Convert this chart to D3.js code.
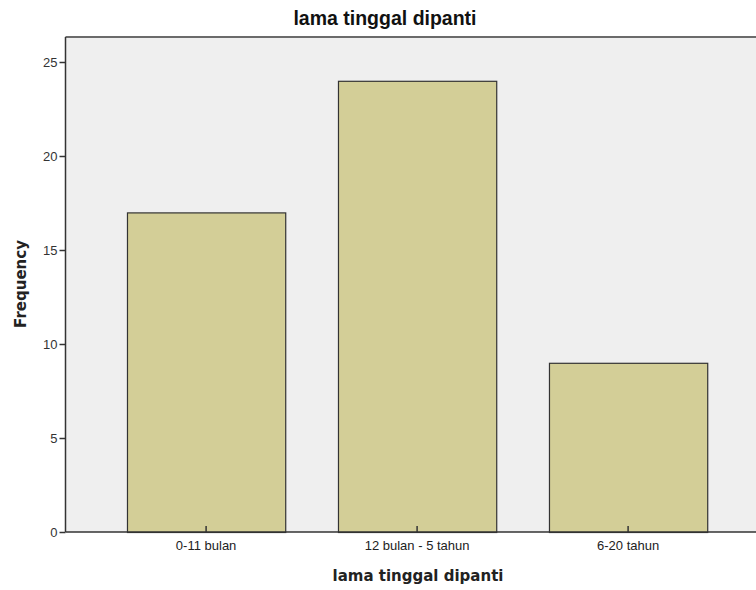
<!DOCTYPE html>
<html lang="id">
<head>
  <meta charset="UTF-8"/>
  <title>lama tinggal dipanti</title>
  <script src="https://d3js.org/d3.v7.min.js"></script>
  <style>
    body { margin: 0; background: #ffffff; }
  </style>
</head>
<body>
<svg id="chart"></svg>
<script>
  // data
  var categories = ["0-11 bulan", "12 bulan - 5 tahun", "6-20 tahun"];
  var frequency = [17, 24, 9];
  var yTicks = [0, 5, 10, 15, 20, 25];

  var width = 756, height = 590;
  var plotLeft = 65.5, plotRight = 757, plotTop = 37, plotBottom = 532;

  var svg = d3.select("#chart")
      .attr("width", width)
      .attr("height", height)
      .style("font-family", "Arial, 'Liberation Sans', sans-serif");

  var x = d3.scaleBand()
      .domain(categories)
      .range([100.6, 733.6])
      .paddingInner(0.25)
      .paddingOuter(0.125);

  var y = d3.scaleLinear()
      .domain([0, 25])
      .range([plotBottom, 62]);

  // plot background
  svg.append("rect")
      .attr("x", plotLeft)
      .attr("y", plotTop)
      .attr("width", plotRight - plotLeft)
      .attr("height", plotBottom - plotTop)
      .attr("fill", "#efefef");

  // top frame line
  svg.append("line")
      .attr("x1", plotLeft).attr("x2", plotRight)
      .attr("y1", plotTop).attr("y2", plotTop)
      .attr("stroke", "#6b6b6b")
      .attr("stroke-width", 2);

  // bars
  svg.selectAll("rect.bar")
      .data(frequency)
      .enter()
      .append("rect")
      .attr("class", "bar")
      .attr("x", function(d, i){ return x(categories[i]) + 0.5; })
      .attr("y", function(d){ return y(d) + 0.5; })
      .attr("width", x.bandwidth())
      .attr("height", function(d){ return plotBottom - y(d); })
      .attr("fill", "#d3ce97")
      .attr("stroke", "#333333")
      .attr("stroke-width", 1.2);

  // y axis
  var yAxis = svg.append("g")
      .attr("transform", "translate(" + plotLeft + ",0)")
      .call(d3.axisLeft(y).tickValues(yTicks).tickSize(6).tickPadding(2));
  yAxis.select(".domain").attr("stroke", "#333333").attr("stroke-width", 1.5)
      .attr("d", "M0," + plotTop + "V" + plotBottom);
  yAxis.selectAll(".tick line").attr("stroke", "#333333").attr("stroke-width", 1.5);
  yAxis.selectAll(".tick text")
      .attr("fill", "#333333")
      .style("font-size", "13px")
      .style("font-family", "Arial, 'Liberation Sans', sans-serif");

  // x axis
  var xAxis = svg.append("g")
      .attr("transform", "translate(0," + plotBottom + ")")
      .call(d3.axisBottom(x).tickSize(6).tickPadding(3));
  xAxis.select(".domain").attr("stroke", "#333333").attr("stroke-width", 1.5)
      .attr("d", "M" + plotLeft + ",0H" + plotRight);
  xAxis.selectAll(".tick line").attr("stroke", "#333333").attr("stroke-width", 1.5)
      .attr("y1", -6).attr("y2", 0);
  xAxis.selectAll(".tick text")
      .attr("fill", "#222222")
      .attr("y", 9)
      .style("font-size", "13px")
      .style("font-family", "Arial, 'Liberation Sans', sans-serif");

  // title
  svg.append("text")
      .attr("x", 385)
      .attr("y", 25)
      .attr("text-anchor", "middle")
      .style("font-size", "19.5px")
      .style("font-weight", "bold")
      .attr("fill", "#111111")
      .text("lama tinggal dipanti");

  // axis titles
  svg.append("text")
      .attr("x", 418)
      .attr("y", 581)
      .attr("text-anchor", "middle")
      .style("font-family", "'DejaVu Sans', sans-serif")
      .style("font-size", "15px")
      .style("font-weight", "bold")
      .attr("fill", "#222222")
      .text("lama tinggal dipanti");

  svg.append("text")
      .attr("transform", "translate(26,284) rotate(-90)")
      .attr("text-anchor", "middle")
      .style("font-family", "'DejaVu Sans', sans-serif")
      .style("font-size", "15px")
      .style("font-weight", "bold")
      .attr("fill", "#222222")
      .text("Frequency");
</script>
</body>
</html>
